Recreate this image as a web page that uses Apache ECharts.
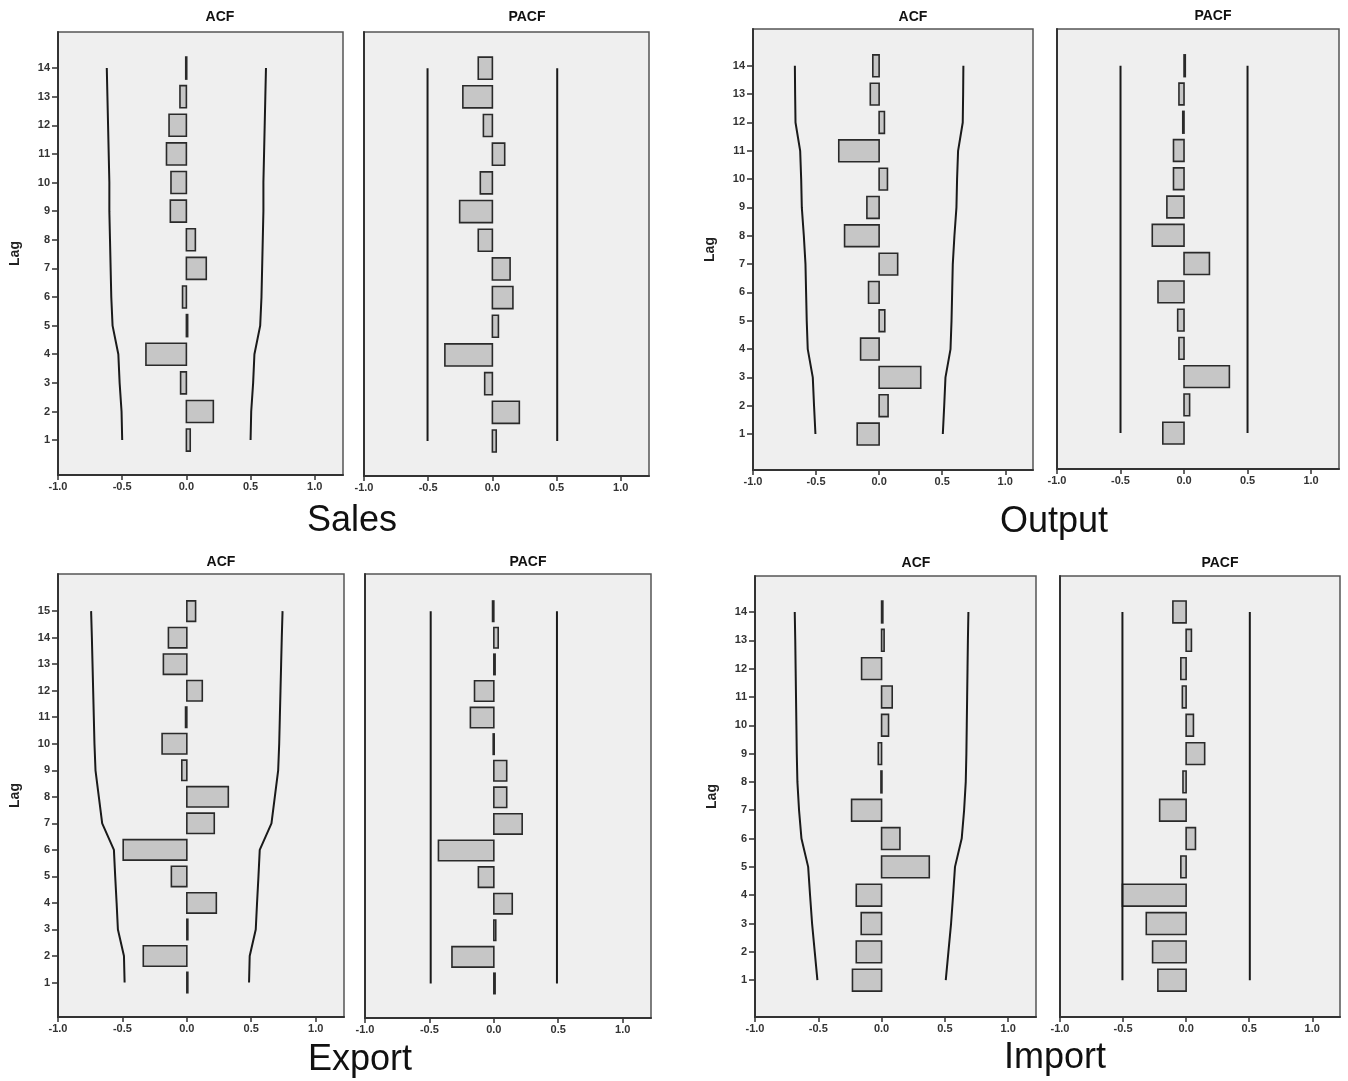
<!DOCTYPE html>
<html>
<head>
<meta charset="utf-8">
<script src="https://cdn.jsdelivr.net/npm/echarts@6/dist/echarts.min.js"></script>
<style>
  html, body { margin: 0; padding: 0; background: #fff; }
  #chart { width: 1348px; height: 1081px; }
</style>
</head>
<body>
<div id="chart"></div>
<script>
// lags
const lags14 = [1, 2, 3, 4, 5, 6, 7, 8, 9, 10, 11, 12, 13, 14]
const lags15 = [1, 2, 3, 4, 5, 6, 7, 8, 9, 10, 11, 12, 13, 14, 15]
const xTicks = [-1, -0.5, 0, 0.5, 1]

// Sales
const salesAcf = [0.03, 0.21, -0.045, -0.315, 0.01, -0.03, 0.155, 0.07, -0.125, -0.12, -0.155, -0.135, -0.05, -0.005]
const salesAcfLimit = [0.5, 0.505, 0.52, 0.53, 0.575, 0.585, 0.59, 0.595, 0.6, 0.6, 0.605, 0.61, 0.615, 0.62]
const salesPacf = [0.03, 0.21, -0.06, -0.37, 0.047, 0.16, 0.138, -0.11, -0.255, -0.094, 0.096, -0.07, -0.23, -0.11]
const salesPacfLimit = 0.505

// Output
const outputAcf = [-0.174, 0.071, 0.33, -0.147, 0.045, -0.084, 0.147, -0.274, -0.097, 0.066, -0.32, 0.042, -0.07, -0.05]
const outputAcfLimit = [0.505, 0.516, 0.526, 0.566, 0.574, 0.579, 0.584, 0.597, 0.613, 0.618, 0.626, 0.663, 0.666, 0.668]
const outputPacf = [-0.167, 0.044, 0.357, -0.04, -0.05, -0.205, 0.2, -0.25, -0.135, -0.083, -0.083, -0.01, -0.04, 0.01]
const outputPacfLimit = 0.5

// Export
const exportAcf = [0.005, -0.338, 0.005, 0.229, -0.12, -0.494, 0.213, 0.322, -0.039, -0.192, -0.01, 0.12, -0.182, -0.143, 0.068]
const exportAcfLimit = [0.483, 0.488, 0.535, 0.545, 0.556, 0.566, 0.657, 0.683, 0.709, 0.717, 0.722, 0.727, 0.732, 0.737, 0.743]
const exportPacf = [0.01, -0.325, 0.015, 0.143, -0.12, -0.43, 0.22, 0.1, 0.1, -0.005, -0.182, -0.15, 0.01, 0.034, -0.01]
const exportPacfLimit = 0.49

// Import
const importAcf = [-0.23, -0.2, -0.161, -0.2, 0.377, 0.145, -0.237, -0.005, -0.026, 0.055, 0.084, -0.158, 0.02, 0.01]
const importAcfLimit = [0.507, 0.528, 0.549, 0.565, 0.58, 0.633, 0.652, 0.665, 0.67, 0.673, 0.676, 0.679, 0.682, 0.686]
const importPacf = [-0.224, -0.266, -0.316, -0.505, -0.042, 0.074, -0.21, -0.025, 0.147, 0.058, -0.03, -0.042, 0.042, -0.105]
const importPacfLimit = 0.505

const panels = [
  { box: [58, 32, 285, 443], y: [-0.22, 15.26], lags: lags14, values: salesAcf, limit: salesAcfLimit, acf: true },
  { box: [364, 32, 285, 444], y: [-0.22, 15.26], lags: lags14, values: salesPacf, limit: salesPacfLimit, acf: false },
  { box: [753, 29, 280, 441], y: [-0.27, 15.3], lags: lags14, values: outputAcf, limit: outputAcfLimit, acf: true },
  { box: [1057, 29, 282, 440], y: [-0.27, 15.3], lags: lags14, values: outputPacf, limit: outputPacfLimit, acf: false },
  { box: [58, 574, 286, 443], y: [-0.3, 16.4], lags: lags15, values: exportAcf, limit: exportAcfLimit, acf: true },
  { box: [365, 574, 286, 444], y: [-0.3, 16.4], lags: lags15, values: exportPacf, limit: exportPacfLimit, acf: false },
  { box: [755, 576, 281, 441], y: [-0.3, 15.27], lags: lags14, values: importAcf, limit: importAcfLimit, acf: true },
  { box: [1060, 576, 280, 441], y: [-0.3, 15.27], lags: lags14, values: importPacf, limit: importPacfLimit, acf: false }
]

const headings = [
  { text: 'ACF', x: 220, y: 17 }, { text: 'PACF', x: 527, y: 17 },
  { text: 'ACF', x: 913, y: 17 }, { text: 'PACF', x: 1213, y: 16 },
  { text: 'ACF', x: 221, y: 562 }, { text: 'PACF', x: 528, y: 562 },
  { text: 'ACF', x: 916, y: 563 }, { text: 'PACF', x: 1220, y: 563 }
]
const groupNames = [
  { text: 'Sales', x: 352, y: 521 }, { text: 'Output', x: 1054, y: 522 },
  { text: 'Export', x: 360, y: 1060 }, { text: 'Import', x: 1055, y: 1058 }
]

const labelStyle = { color: '#333', fontSize: 11, fontFamily: 'Liberation Sans', fontWeight: 'bold' }
const axisLineStyle = { color: '#333', width: 2 }

function renderBar(params, api) {
  const lag = api.value(1)
  const a = api.coord([0, lag])
  const b = api.coord([api.value(0), lag])
  const h = api.size([0, 0.77])[1]
  return {
    type: 'rect',
    shape: { x: Math.min(a[0], b[0]), y: a[1] - h / 2, width: Math.max(Math.abs(b[0] - a[0]), 1), height: h },
    style: { fill: '#c6c6c6', stroke: '#2a2a2a', lineWidth: 1.6 }
  }
}

const grid = []
const xAxis = []
const yAxis = []
const series = []

panels.forEach((p, i) => {
  grid.push({
    left: p.box[0], top: p.box[1], width: p.box[2], height: p.box[3],
    show: true, backgroundColor: '#efefef', borderColor: '#555', borderWidth: 1.5
  })
  xAxis.push({
    gridIndex: i, type: 'value', min: -1, max: 1.22,
    axisLine: { show: true, onZero: false, lineStyle: axisLineStyle },
    axisTick: { show: true, inside: false, length: 5, customValues: xTicks, lineStyle: { color: '#333', width: 1.5 } },
    axisLabel: { ...labelStyle, margin: 6, customValues: xTicks, formatter: v => v.toFixed(1) },
    splitLine: { show: false }
  })
  yAxis.push({
    gridIndex: i, type: 'value', min: p.y[0], max: p.y[1],
    name: p.acf ? 'Lag' : '', nameLocation: 'middle', nameRotate: 90, nameGap: 36,
    nameTextStyle: { fontSize: 14, fontWeight: 'bold', color: '#222', fontFamily: 'Liberation Sans' },
    axisLine: { show: true, onZero: false, lineStyle: axisLineStyle },
    axisTick: { show: p.acf, inside: false, length: 6, customValues: p.lags, lineStyle: { color: '#333', width: 1.5 } },
    axisLabel: { show: p.acf, ...labelStyle, margin: 8, customValues: p.lags },
    splitLine: { show: false }
  })
  series.push({
    type: 'custom', xAxisIndex: i, yAxisIndex: i,
    renderItem: renderBar,
    encode: { x: 0, y: 1 },
    data: p.values.map((v, k) => [v, p.lags[k]]),
    z: 3
  })
  const upper = p.acf ? p.lags.map((l, k) => [p.limit[k], l]) : [[p.limit, p.lags[0]], [p.limit, p.lags[p.lags.length - 1]]]
  const lower = upper.map(d => [-d[0], d[1]])
  ;[upper, lower].forEach(d => {
    series.push({
      type: 'line', xAxisIndex: i, yAxisIndex: i, data: d,
      symbol: 'none', silent: true, z: 4,
      lineStyle: { color: '#1a1a1a', width: 2 }
    })
  })
})

const graphic = headings.map(h => ({
  type: 'text', x: h.x, y: h.y,
  style: { text: h.text, fill: '#111', font: 'bold 14px "Liberation Sans"', textAlign: 'center', textVerticalAlign: 'middle' }
})).concat(groupNames.map(g => ({
  type: 'text', x: g.x, y: g.y,
  style: { text: g.text, fill: '#111', font: '36px "Liberation Sans"', textAlign: 'center', textVerticalAlign: 'middle' }
})))

const chart = echarts.init(document.getElementById('chart'))
chart.setOption({
  animation: false,
  grid, xAxis, yAxis, series, graphic
})
</script>
</body>
</html>
